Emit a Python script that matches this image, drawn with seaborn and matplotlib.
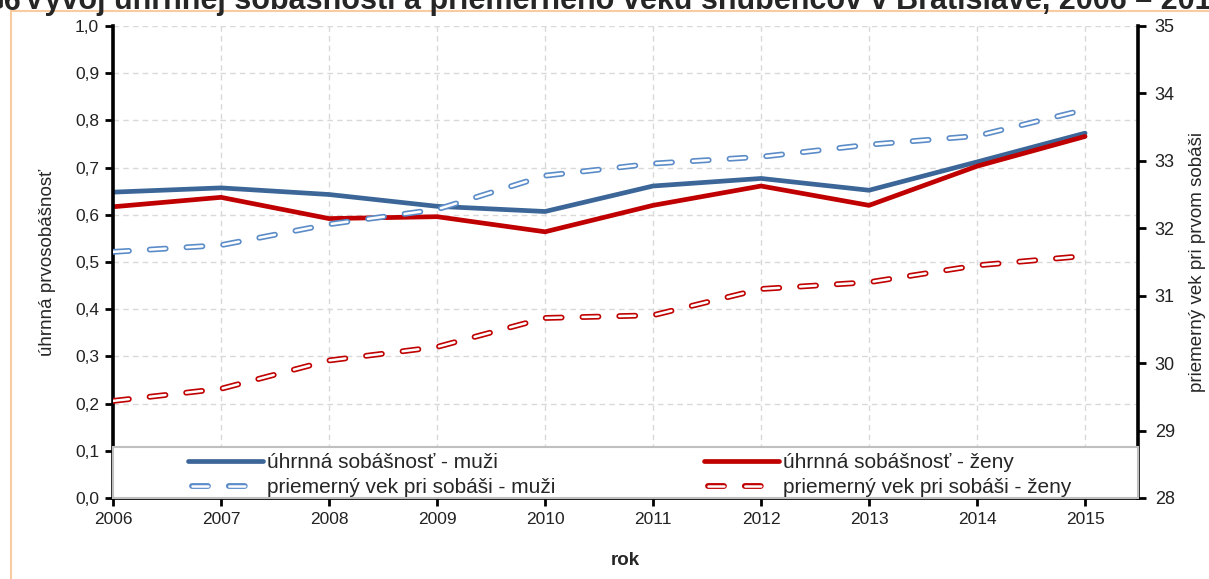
import matplotlib
matplotlib.use("Agg")
import matplotlib.pyplot as plt
import matplotlib.patches as mpatches
from matplotlib.lines import Line2D
from matplotlib.ticker import FuncFormatter, MultipleLocator
from matplotlib.legend_handler import HandlerBase
import seaborn as sns

roky = [2006, 2007, 2008, 2009, 2010, 2011, 2012, 2013, 2014, 2015]
sobasnost_muzi = [0.648, 0.657, 0.643, 0.618, 0.607, 0.661, 0.677, 0.652, 0.712, 0.773]
sobasnost_zeny = [0.617, 0.637, 0.592, 0.596, 0.564, 0.620, 0.661, 0.620, 0.703, 0.766]
vek_muzi = [31.65, 31.75, 32.06, 32.28, 32.78, 32.96, 33.06, 33.24, 33.37, 33.76]
vek_zeny = [29.44, 29.62, 30.04, 30.24, 30.67, 30.71, 31.10, 31.20, 31.45, 31.59]

nazov_cislo = "G6"
nazov = "Vývoj úhrnnej sobášnosti a priemerného veku snúbencov v Bratislave, 2006 – 2015"
legenda = ["úhrnná sobášnosť - muži", "úhrnná sobášnosť - ženy",
           "priemerný vek pri sobáši - muži", "priemerný vek pri sobáši - ženy"]

sns.set_theme(style="white")
plt.rcParams["font.family"] = ["Liberation Sans", "DejaVu Sans"]
plt.rcParams["lines.scale_dashes"] = False

MODRA = "#3C6698"
CERVENA = "#C00000"
SVETLOMODRA = "#5B8CC8"
DASH = (11.5, 15)
LW_OUT, LW_IN = 4.2, 1.8

W, H = 1209, 579
fig = plt.figure(figsize=(W / 100, H / 100), dpi=100)
ax = fig.add_axes([113 / W, 1 - 498 / H, (1138 - 113) / W, (498 - 26) / H])
ax2 = ax.twinx()

sns.lineplot(x=roky, y=sobasnost_muzi, ax=ax, color=MODRA, lw=3.4)
sns.lineplot(x=roky, y=sobasnost_zeny, ax=ax, color=CERVENA, lw=3.4)


def dashed(y, farba):
    out = sns.lineplot(x=roky, y=y, ax=ax2, color=farba, lw=LW_OUT).lines[-1]
    inn = sns.lineplot(x=roky, y=y, ax=ax2, color="white", lw=LW_IN).lines[-1]
    for ln in (out, inn):
        ln.set_dashes(DASH)
        ln.set_dash_capstyle("round")


dashed(vek_muzi, SVETLOMODRA)
dashed(vek_zeny, CERVENA)

ax.set_xlim(2006, 2015.49)
ax.set_ylim(0, 1.0)
ax2.set_ylim(28, 35)
ax.set_xticks(roky)
ax.yaxis.set_major_locator(MultipleLocator(0.1))
ax.yaxis.set_major_formatter(FuncFormatter(lambda v, p: f"{v:.1f}".replace(".", ",")))
ax2.yaxis.set_major_locator(MultipleLocator(1))

ax.grid(True, color="#D9D9D9", ls=(0, (4, 3)), lw=1)
for a in (ax, ax2):
    a.spines["top"].set_visible(False)
ax.spines["right"].set_visible(False)
ax2.spines["left"].set_visible(False)
ax2.spines["bottom"].set_visible(False)
ax.spines["left"].set_linewidth(2.6)
ax.spines["bottom"].set_linewidth(2.0)
ax2.spines["right"].set_linewidth(2.6)
for s in ("left", "bottom"):
    ax.spines[s].set_color("black")
ax2.spines["right"].set_color("black")

ax.tick_params(axis="both", direction="out", length=6, width=2, color="black",
               labelsize=12.5, labelcolor="#222222", left=True, bottom=True, pad=4)
ax2.tick_params(axis="y", direction="out", length=6, width=2, color="black",
                labelsize=13, labelcolor="#222222", right=True, pad=6)

ax.set_ylabel("úhrnná prvosobášnosť", fontsize=13.5, labelpad=14)
ax2.set_ylabel("priemerný vek pri prvom sobáši", fontsize=13.5, labelpad=10, rotation=90)
ax.set_xlabel("rok", fontsize=13.5, fontweight="bold", labelpad=18)

# ramček legendy
vyska = 51 / 472
ax2.add_patch(mpatches.Rectangle((0, 0), 1, vyska, transform=ax2.transAxes,
                                 facecolor="white", edgecolor="#BFBFBF", lw=1.5,
                                 zorder=5, clip_on=False))


class HandlerDvojita(HandlerBase):
    # dutá prerušovaná čiara: farebný obrys + biely stred
    def create_artists(self, legend, orig_handle, xdescent, ydescent,
                       width, height, fontsize, trans):
        y = height / 2 - ydescent
        x = [-xdescent + 3, width - xdescent]
        out = Line2D(x, [y, y], color=orig_handle.get_color(), lw=LW_OUT,
                     dashes=DASH, dash_capstyle="round", transform=trans)
        inn = Line2D(x, [y, y], color="white", lw=LW_IN,
                     dashes=DASH, dash_capstyle="round", transform=trans)
        return [out, inn]


d_muzi = Line2D([], [], color=SVETLOMODRA)
d_zeny = Line2D([], [], color=CERVENA)
handles = [Line2D([], [], color=MODRA, lw=3.4), d_muzi,
           Line2D([], [], color=CERVENA, lw=3.4), d_zeny]
leg = ax2.legend(handles, [legenda[0], legenda[2], legenda[1], legenda[3]],
                 handler_map={d_muzi: HandlerDvojita(), d_zeny: HandlerDvojita()},
                 ncol=2, loc="center", bbox_to_anchor=(0.004, -0.006, 1, vyska),
                 frameon=False, fontsize=15, handlelength=3.6, handletextpad=0.2,
                 columnspacing=7.1, labelspacing=0.3, borderpad=0.05)
leg.set_zorder(6)

fig.text(21 / W, 1 - 9.5 / H, nazov_cislo, fontsize=22, fontweight="bold",
         ha="right", va="baseline")
fig.text(24 / W, 1 - 9.5 / H, nazov, fontsize=22, fontweight="bold",
         ha="left", va="baseline")
fig.add_artist(mpatches.Rectangle((11 / W, -0.05), 1.1, 1 - 11 / H + 0.05,
                                  transform=fig.transFigure, fill=False,
                                  edgecolor="#F8CBA0", lw=1.5))

fig.savefig("out.png", dpi=100)
